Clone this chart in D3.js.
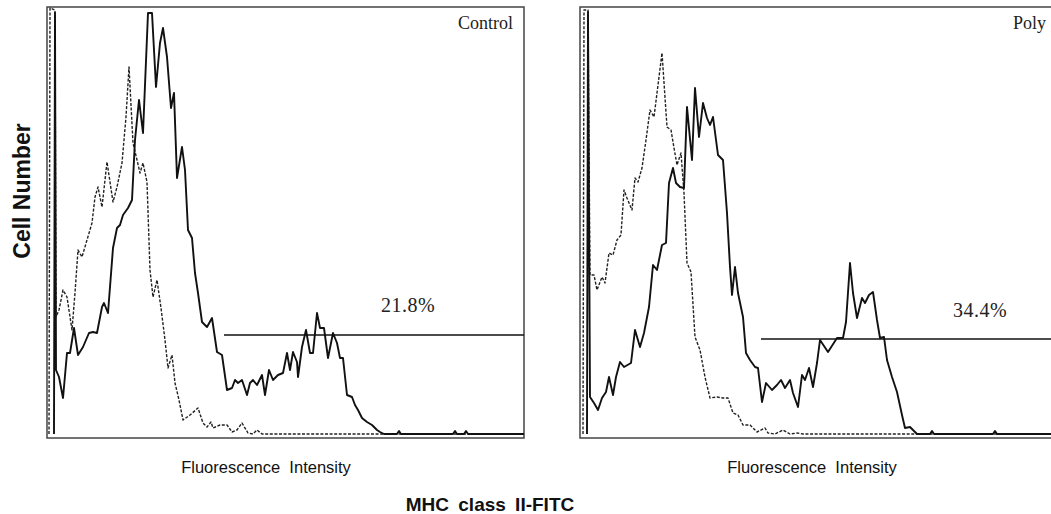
<!DOCTYPE html>
<html><head><meta charset="utf-8">
<script src="https://cdn.jsdelivr.net/npm/d3@7"></script>
<style>
html,body{margin:0;padding:0;background:#fff;}
svg{display:block;}
</style></head>
<body>
<svg id="chart" width="1051" height="514"></svg>
<script>
// channel (x) vs cell count (y), arbitrary units
const panels = ["Control", "Poly"];
const gatePercent = ["21.8%", "34.4%"];
const gateStart = [177, 181];
const gateLevel = [99, 95];

const controlStained = [[7,0],[8,421],[9,64],[12,57],[16,36],[20,81],[23,81],[27,106],[31,79],[36,87],[42,101],[46,102],[50,101],[55,127],[57,131],[61,121],[66,186],[70,206],[73,209],[76,219],[81,226],[85,234],[88,294],[92,334],[96,301],[101,421],[105,421],[109,347],[113,391],[116,406],[120,377],[124,326],[127,341],[130,256],[135,287],[138,264],[141,204],[145,196],[148,161],[151,141],[155,112],[160,107],[165,116],[170,82],[175,79],[180,44],[185,46],[188,54],[191,51],[195,54],[200,39],[203,51],[206,54],[210,49],[215,59],[218,39],[222,64],[226,54],[231,59],[236,61],[240,81],[243,64],[246,82],[250,72],[251,57],[255,87],[259,104],[263,81],[266,81],[270,121],[273,106],[277,106],[281,76],[286,101],[290,91],[293,76],[296,76],[300,39],[305,37],[308,29],[311,24],[315,16],[320,12],[325,9],[330,4],[333,2],[337,0],[350,0],[352,3],[354,0],[406,0],[408,3],[410,0],[417,0],[419,3],[421,0],[477,0]];
const controlIsotype = [[2,0],[3,426],[8,424],[9,117],[12,124],[16,144],[20,137],[25,104],[28,141],[31,184],[35,177],[40,194],[45,211],[48,237],[51,247],[55,227],[60,272],[66,232],[70,247],[75,271],[79,317],[82,367],[86,291],[90,274],[93,261],[96,271],[100,252],[103,164],[106,137],[110,154],[114,126],[118,94],[121,66],[125,79],[128,51],[132,34],[136,14],[143,19],[151,26],[156,11],[160,7],[164,12],[166,6],[173,9],[180,9],[185,2],[190,4],[195,11],[201,1],[206,0],[210,4],[215,0],[477,0]];
const polyStained = [[7,0],[8,422],[10,37],[14,31],[18,24],[22,36],[26,42],[29,57],[33,39],[36,57],[40,72],[44,67],[51,71],[55,104],[60,87],[64,101],[69,127],[73,169],[77,164],[82,189],[86,191],[89,251],[93,266],[96,251],[100,247],[104,246],[107,327],[112,274],[115,346],[119,297],[123,331],[127,316],[130,309],[133,317],[138,279],[143,274],[147,221],[150,167],[152,139],[155,167],[158,141],[163,117],[166,81],[170,74],[175,67],[178,66],[182,32],[186,51],[192,44],[197,49],[201,54],[205,46],[210,54],[213,41],[218,27],[222,59],[225,54],[229,66],[233,47],[237,71],[240,94],[248,82],[257,96],[263,96],[266,112],[270,171],[273,141],[277,116],[282,136],[285,131],[289,139],[293,142],[297,114],[300,96],[304,97],[307,74],[312,57],[317,42],[322,19],[325,6],[330,7],[333,4],[337,0],[350,0],[352,3],[354,0],[413,0],[415,3],[417,0],[477,0]];
const polyIsotype = [[3,0],[4,424],[8,424],[10,159],[14,159],[17,144],[22,157],[25,151],[29,181],[33,179],[37,194],[41,199],[44,244],[47,236],[52,224],[55,256],[58,252],[62,266],[66,294],[70,324],[74,317],[77,341],[82,381],[87,307],[91,304],[94,286],[97,269],[101,281],[104,241],[107,171],[111,162],[115,97],[120,84],[125,57],[130,36],[137,37],[143,36],[148,36],[153,21],[158,19],[163,9],[170,9],[177,2],[185,6],[188,1],[195,0],[203,4],[210,0],[217,1],[223,0],[477,0]];

const stainedSeries = [controlStained, polyStained];
const isotypeSeries = [controlIsotype, polyIsotype];

const xAxisLabel = "Fluorescence  Intensity";
const yAxisLabel = "Cell Number";
const mainLabel = "MHC class II-FITC";

const svg = d3.select("#chart");
const panelLeft = [47, 580];
const panelW = 477, frameTop = 7, frameBottom = 438, base = 434;

panels.forEach((name, i) => {
  const x = d3.scaleLinear().domain([0, 477]).range([panelLeft[i], panelLeft[i] + panelW]);
  const y = d3.scaleLinear().domain([0, 426]).range([base, 8]);
  const g = svg.append("g");
  const line = d3.line().x(d => x(d[0])).y(d => y(d[1]));

  g.append("rect").attr("x", x(0)).attr("y", frameTop).attr("width", panelW).attr("height", frameBottom - frameTop)
    .attr("fill", "none").attr("stroke", "#444").attr("stroke-width", 1.5);

  g.append("path").datum(isotypeSeries[i]).attr("d", line)
    .attr("fill", "none").attr("stroke", "#222").attr("stroke-width", 1.4)
    .attr("stroke-dasharray", "3,1.6").attr("stroke-linejoin", "round");

  g.append("path").datum(stainedSeries[i]).attr("d", line)
    .attr("fill", "none").attr("stroke", "#111").attr("stroke-width", 1.9)
    .attr("stroke-linejoin", "round");

  g.append("line").attr("x1", x(gateStart[i])).attr("x2", x(477))
    .attr("y1", y(gateLevel[i])).attr("y2", y(gateLevel[i]))
    .attr("stroke", "#111").attr("stroke-width", 1.3);

  g.append("text").attr("x", x(i === 0 ? 361 : 400)).attr("y", y(i === 0 ? 122 : 117))
    .attr("text-anchor", "middle").attr("font-family", "Liberation Serif, Times New Roman, serif")
    .attr("font-size", 20).attr("letter-spacing", 0.5).attr("fill", "#222").text(gatePercent[i]);

  g.append("text").attr("x", x(466)).attr("y", y(405))
    .attr("text-anchor", "end").attr("font-family", "Liberation Serif, Times New Roman, serif")
    .attr("font-size", 18).attr("fill", "#222").text(name);

  g.append("text").attr("x", x(i === 0 ? 219 : 232)).attr("y", 473)
    .attr("text-anchor", "middle").attr("font-family", "Liberation Sans, Arial, sans-serif")
    .attr("font-size", 16.5).attr("fill", "#111").style("white-space", "pre").text(xAxisLabel);
});

svg.append("text").attr("transform", "translate(30,191) rotate(-90)")
  .attr("text-anchor", "middle").attr("font-family", "Liberation Sans, Arial, sans-serif")
  .attr("font-size", 23).attr("font-weight", "bold").attr("fill", "#111").text(yAxisLabel);

svg.append("text").attr("x", 490).attr("y", 511)
  .attr("text-anchor", "middle").attr("font-family", "Liberation Sans, Arial, sans-serif")
  .attr("font-size", 19).attr("font-weight", "bold").attr("word-spacing", 4).attr("fill", "#111").text(mainLabel);
</script>
</body></html>
